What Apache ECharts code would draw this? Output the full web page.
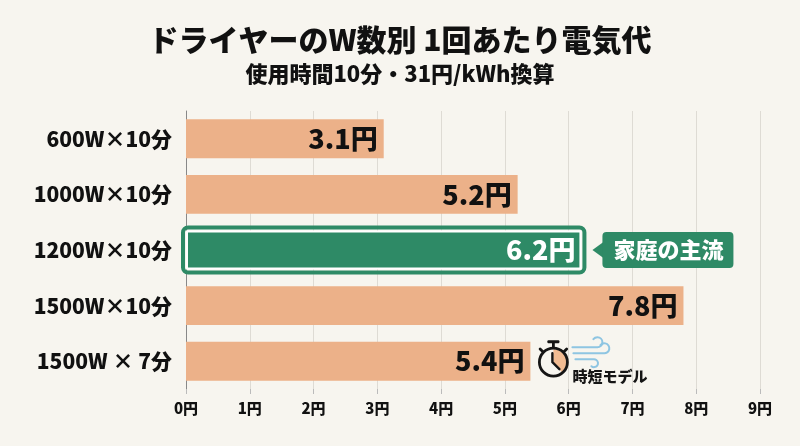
<!DOCTYPE html>
<html lang="ja">
<head>
<meta charset="utf-8">
<title>ドライヤーのW数別 1回あたり電気代</title>
<style>
  html, body { margin: 0; background: #f7f5ef; }
  #chart { width: 800px; height: 446px; }
</style>
<script src="https://cdn.jsdelivr.net/npm/echarts@6/dist/echarts.min.js"></script>
</head>
<body>
<div id="chart"></div>
<script>
// data
const categories = ['600W×10分', '1000W×10分', '1200W×10分', '1500W×10分', '1500W × 7分'];
const costs = [3.1, 5.2, 6.2, 7.8, 5.4];
const xTicks = [0, 1, 2, 3, 4, 5, 6, 7, 8, 9];
const highlightIndex = 2;
const calloutText = '家庭の主流';
const shortIndex = 4;
const shortText = '時短モデル';

(function(){
  const font = '"Noto Sans CJK JP", "Noto Sans", sans-serif';
  const peach = '#ecb189';
  const green = '#2e8a66';
  const chart = echarts.init(document.getElementById('chart'));

  const barData = costs.map((v, i) => {
    if(i !== highlightIndex) return v;
    return {
      value: v,
      itemStyle: { color: green, borderColor: '#fff', borderWidth: 2 },
      label: { color: '#fff' }
    };
  });

  // green frame + "家庭の主流" callout around the highlighted bar
  function renderCallout(params, api){
    const idx = api.value(1);
    const start = api.coord([0, idx]);
    const end = api.coord([api.value(0), idx]);
    const h = api.size([0, 1])[1] * 0.7;
    const cy = end[1];
    const bx = end[0] + 21;
    return {
      type: 'group',
      children: [
        {
          type: 'rect',
          shape: { x: start[0] - 3, y: cy - h / 2 - 3, width: end[0] - start[0] + 6, height: h + 6, r: 5 },
          style: { fill: 'none', stroke: green, lineWidth: 4 }
        },
        {
          type: 'polygon',
          shape: { points: [[end[0] + 11, cy], [bx + 1, cy - 8], [bx + 1, cy + 8]] },
          style: { fill: green }
        },
        {
          type: 'rect',
          shape: { x: bx, y: cy - 18, width: 131, height: 36, r: 4 },
          style: { fill: green }
        },
        {
          type: 'text',
          x: bx + 66, y: cy,
          style: {
            text: calloutText, fill: '#fff', font: '900 22px ' + font,
            align: 'center', verticalAlign: 'middle'
          }
        }
      ]
    };
  }

  // stopwatch + wind icon for the short-time model
  function renderShort(params, api){
    const idx = api.value(1);
    const end = api.coord([api.value(0), idx]);
    const cx = end[0] + 23;
    const cy = end[1] + 1;
    const r = 14;
    const ink = '#151515';
    const wind = '#8ec5e2';
    const wx = cx + 19;
    const wy = cy - 18;
    return {
      type: 'group',
      children: [
        {
          type: 'sector',
          shape: { cx: cx, cy: cy, r0: 0, r: r - 1, startAngle: -Math.PI / 2, endAngle: Math.PI * 0.28, clockwise: true },
          style: { fill: '#f1bb92' }
        },
        { type: 'circle', shape: { cx: cx, cy: cy, r: r }, style: { fill: 'none', stroke: ink, lineWidth: 2.8 } },
        { type: 'rect', shape: { x: cx - 6, y: cy - r - 8, width: 12, height: 3, r: 1 }, style: { fill: ink } },
        { type: 'line', shape: { x1: cx, y1: cy - r - 6, x2: cx, y2: cy - r }, style: { stroke: ink, lineWidth: 2.8 } },
        { type: 'line', shape: { x1: cx - r * 0.75, y1: cy - r * 0.75, x2: cx - r * 0.95, y2: cy - r * 0.95 }, style: { stroke: ink, lineWidth: 2.8, lineCap: 'round' } },
        { type: 'line', shape: { x1: cx + r * 0.75, y1: cy - r * 0.75, x2: cx + r * 0.95, y2: cy - r * 0.95 }, style: { stroke: ink, lineWidth: 2.8, lineCap: 'round' } },
        { type: 'polyline', shape: { points: [[cx - 1, cy - 9], [cx - 1, cy], [cx + 6, cy + 7]] }, style: { fill: 'none', stroke: ink, lineWidth: 2.4, lineCap: 'round', lineJoin: 'round' } },
        {
          type: 'path',
          shape: { pathData: 'M' + wx + ',' + (wy + 3) + ' L' + (wx + 25) + ',' + (wy + 3) + ' A5,5 0 1,0 ' + (wx + 21) + ',' + (wy - 5) },
          style: { fill: 'none', stroke: wind, lineWidth: 2, lineCap: 'round' }
        },
        {
          type: 'path',
          shape: { pathData: 'M' + (wx + 1) + ',' + (wy + 9) + ' L' + (wx + 31) + ',' + (wy + 9) + ' A5,5 0 1,0 ' + (wx + 28) + ',' + (wy + 1) },
          style: { fill: 'none', stroke: wind, lineWidth: 2, lineCap: 'round' }
        },
        {
          type: 'path',
          shape: { pathData: 'M' + (wx + 3) + ',' + (wy + 15) + ' L' + (wx + 21) + ',' + (wy + 15) + ' A4,4 0 1,1 ' + (wx + 19) + ',' + (wy + 22) },
          style: { fill: 'none', stroke: wind, lineWidth: 2, lineCap: 'round' }
        },
        {
          type: 'text',
          x: cx + 19, y: cy + 14,
          style: { text: shortText, fill: ink, font: '900 15px ' + font, align: 'left', verticalAlign: 'middle' }
        }
      ]
    };
  }

  chart.setOption({
    backgroundColor: '#f7f5ef',
    animation: false,
    textStyle: { fontFamily: font },
    title: {
      text: 'ドライヤーのW数別 1回あたり電気代',
      subtext: '使用時間10分・31円/kWh換算',
      left: 'center',
      top: 20,
      itemGap: 8,
      textStyle: { fontFamily: font, fontSize: 30, fontWeight: 900, color: '#111' },
      subtextStyle: { fontFamily: font, fontSize: 22, fontWeight: 900, color: '#111' }
    },
    grid: { left: 186, right: 40, top: 111, bottom: 57, containLabel: false },
    xAxis: {
      type: 'value',
      min: xTicks[0],
      max: xTicks[xTicks.length - 1],
      interval: 1,
      axisLine: { show: false },
      axisTick: { show: true, length: 5, lineStyle: { color: '#bbb' } },
      axisLabel: { formatter: v => v + '円', fontSize: 15, fontWeight: 900, color: '#111', margin: 12, fontFamily: font },
      splitLine: { show: true, lineStyle: { color: '#dedbd4', width: 1 } }
    },
    yAxis: {
      type: 'category',
      data: categories,
      inverse: true,
      axisLine: { show: true, lineStyle: { color: '#888', width: 1 } },
      axisTick: { show: false },
      axisLabel: { fontSize: 21, fontWeight: 900, color: '#111', margin: 14, fontFamily: font }
    },
    series: [
      {
        type: 'bar',
        data: barData,
        barWidth: '70%',
        itemStyle: { color: peach },
        label: {
          show: true,
          position: 'insideRight',
          distance: 6,
          formatter: p => p.value + '円',
          fontSize: 27,
          fontWeight: 900,
          color: '#111',
          fontFamily: font
        },
        z: 2
      },
      {
        type: 'custom',
        renderItem: renderCallout,
        data: [[costs[highlightIndex], highlightIndex]],
        encode: { x: 0, y: 1 },
        silent: true,
        z: 5
      },
      {
        type: 'custom',
        renderItem: renderShort,
        data: [[costs[shortIndex], shortIndex]],
        encode: { x: 0, y: 1 },
        silent: true,
        z: 5
      }
    ]
  });
})();
</script>
</body>
</html>
